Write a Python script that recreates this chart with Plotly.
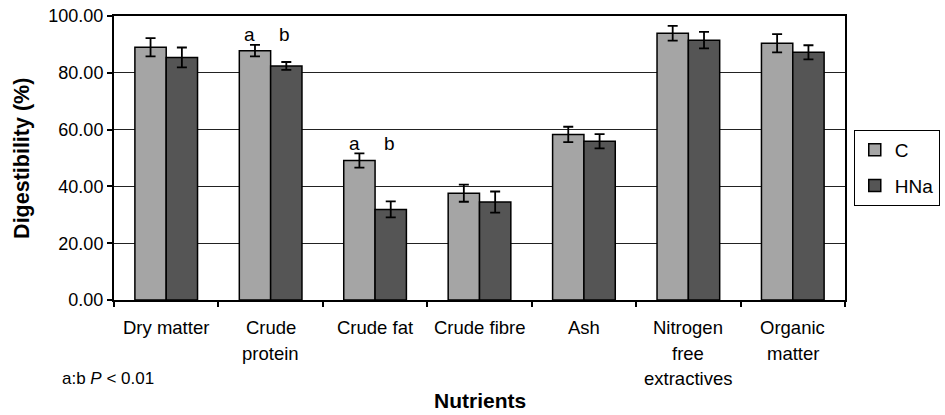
import plotly.graph_objects as go

categories = ["Dry matter", "Crude<br>protein", "Crude fat", "Crude fibre", "Ash",
              "Nitrogen<br>free<br>extractives", "Organic<br>matter"]
c_values = [89.0, 87.8, 49.1, 37.6, 58.3, 93.9, 90.4]
c_errors = [3.2, 2.0, 2.5, 3.0, 2.7, 2.6, 3.2]
hna_values = [85.4, 82.4, 31.9, 34.5, 55.9, 91.5, 87.2]
hna_errors = [3.5, 1.4, 2.8, 3.7, 2.5, 2.9, 2.5]
y_ticks = [0, 20, 40, 60, 80, 100]
# significance letters: (category index, letter y value)
sig_cats = [1, 2]
sig_y = [93.5, 55.0]

FONT = "Liberation Sans, Arial, Helvetica, sans-serif"
fig = go.Figure()
fig.add_trace(go.Bar(
    x=categories, y=c_values, name="C", legendgroup="c",
    marker=dict(color="#a5a5a5", line=dict(color="black", width=1.5)),
    error_y=dict(type="data", array=c_errors, color="black", thickness=1.8, width=5),
))
fig.add_trace(go.Bar(
    x=categories, y=hna_values, name="HNa", legendgroup="h",
    marker=dict(color="#555555", line=dict(color="black", width=1.5)),
    error_y=dict(type="data", array=hna_errors, color="black", thickness=1.8, width=5),
))

annotations = []
# category labels, one annotation per line for wider line spacing
for cat in categories:
    for i, line in enumerate(cat.split("<br>")):
        annotations.append(dict(
            x=cat, xref="x", y=0, yref="paper", yanchor="middle", xanchor="center",
            yshift=-27.5 - 25.5 * i, text=line, showarrow=False,
            font=dict(family=FONT, size=18.5, color="black")))
for ci, yy in zip(sig_cats, sig_y):
    annotations.append(dict(x=categories[ci], y=yy, xref="x", yref="y", text="a",
                            showarrow=False, xshift=-21, yanchor="middle",
                            font=dict(family=FONT, size=19, color="black")))
    annotations.append(dict(x=categories[ci], y=yy, xref="x", yref="y", text="b",
                            showarrow=False, xshift=14, yanchor="middle",
                            font=dict(family=FONT, size=19, color="black")))
annotations.append(dict(x=-0.074, y=-0.278, xref="paper", yref="paper", xanchor="left",
                        yanchor="middle", text="a:b <i>P</i> < 0.01", showarrow=False,
                        font=dict(family=FONT, size=17, color="black")))
annotations.append(dict(x=0.5, y=-0.355, xref="paper", yref="paper", xanchor="center",
                        yanchor="middle", text="<b>Nutrients</b>", showarrow=False,
                        font=dict(family=FONT, size=21, color="black")))
annotations.append(dict(x=-0.126, y=0.5, xref="paper", yref="paper", xanchor="center",
                        yanchor="middle", text="<b>Digestibility (%)</b>", textangle=-90,
                        showarrow=False, font=dict(family=FONT, size=21.5, color="black")))

fig.update_layout(
    width=945, height=415,
    margin=dict(l=114, r=100, t=16, b=115, autoexpand=False),
    paper_bgcolor="white", plot_bgcolor="white",
    barmode="group", bargap=0.4, bargroupgap=0,
    font=dict(family=FONT, size=18, color="black"),
    showlegend=True,
    legend=dict(x=1.012, y=0.465, xanchor="left", yanchor="middle",
                bordercolor="black", borderwidth=1, bgcolor="white",
                font=dict(family=FONT, size=19, color="black"),
                itemwidth=30, tracegroupgap=8),
    annotations=annotations,
)
fig.update_xaxes(showticklabels=False, showline=True, linecolor="black", linewidth=2,
                 mirror=True, ticks="outside", tickson="boundaries", ticklen=5,
                 tickcolor="black", tickwidth=1.5, showgrid=False, automargin=False)
fig.update_yaxes(range=[0, 100], tickvals=y_ticks, tickformat=".2f", showline=True,
                 linecolor="black", linewidth=2, mirror=True, ticks="outside", ticklen=5,
                 tickcolor="black", tickwidth=1.5, showgrid=True, gridcolor="#222222",
                 gridwidth=1, zeroline=False, tickfont=dict(family=FONT, size=18),
                 automargin=False)
# remove the default page body margin so the figure sits at the window's top-left
fig.write_html("out.html", config={"displayModeBar": False},
               post_script="document.body.style.margin='0';document.body.style.overflow='hidden';")
